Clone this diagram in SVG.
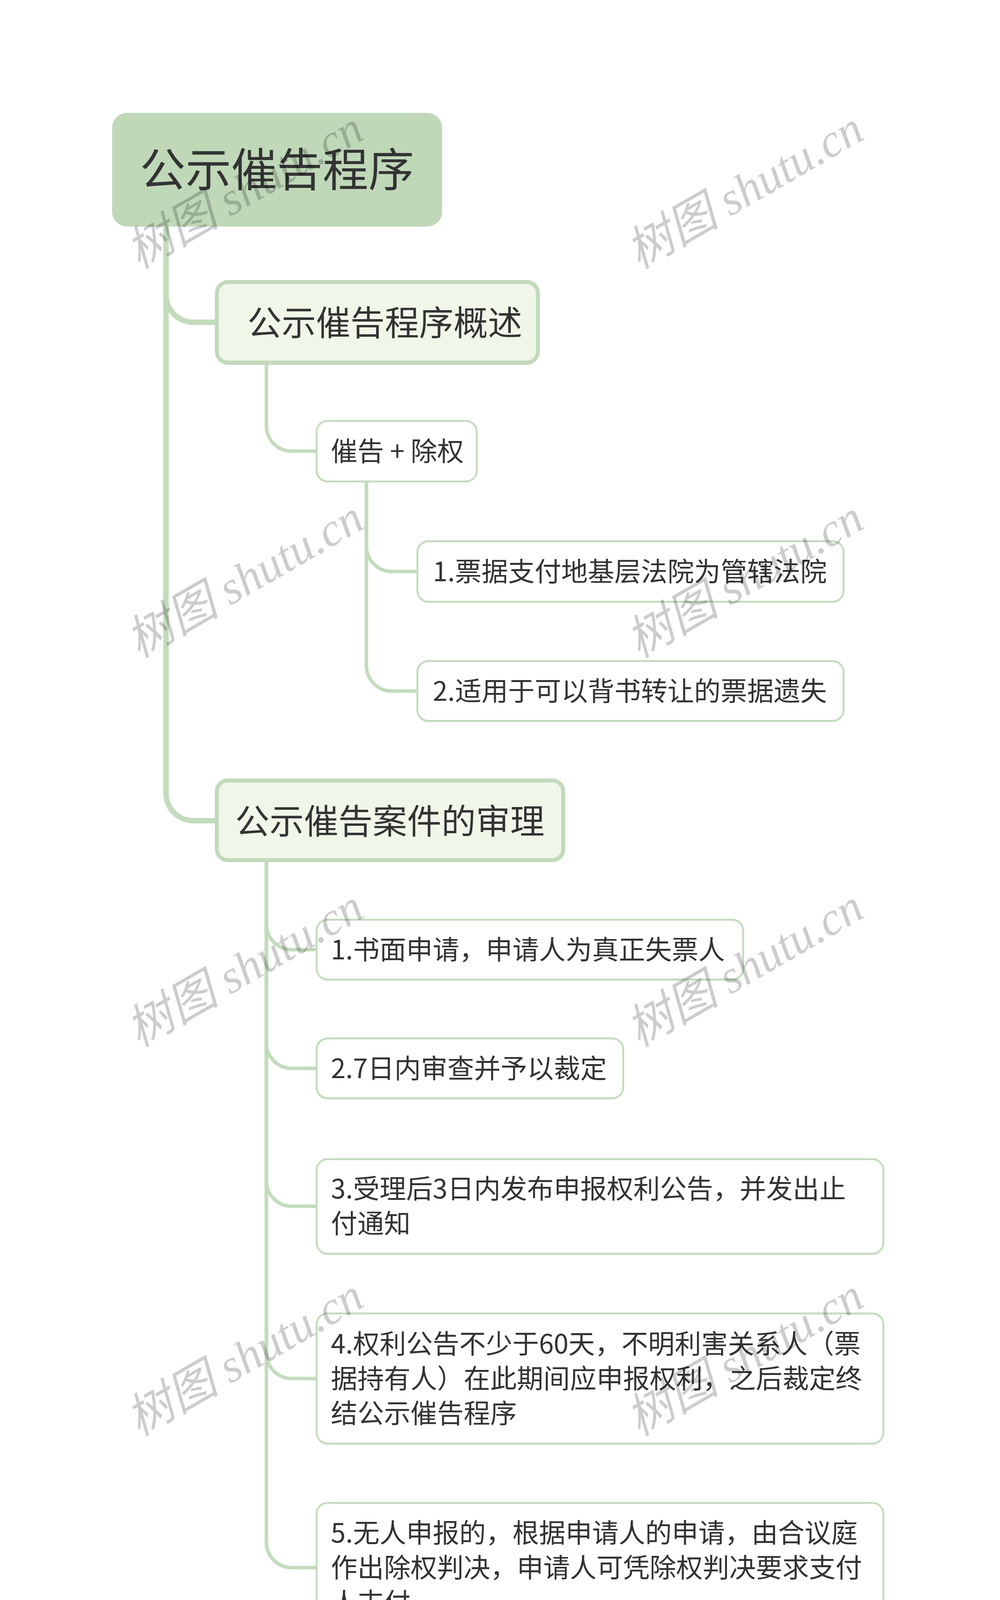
<svg xmlns="http://www.w3.org/2000/svg" width="2560" height="4477" viewBox="0 0 2560 4477">
<style>
.t{font-family:"Noto Sans CJK SC","Noto Sans",sans-serif;fill:#333333}
.leaf{fill:#ffffff;stroke:#c5dcbf;stroke-width:5}
.l1{fill:#f0f6e8;stroke:#c2d9bb;stroke-width:10}
.sh{fill:#000000;fill-opacity:0.05}
.c{fill:none;stroke:#c3dbbd;stroke-width:9}
.wm{font-family:"Liberation Serif","Noto Sans CJK SC",serif;font-style:italic;font-size:120px;fill:#000000;fill-opacity:0.2}
</style>
<rect width="2560" height="4477" fill="#ffffff"/>
<g id="connectors">
<path class="c" style="stroke-width:14" d="M425,580 V755 A70,70 0 0 0 495,825 H552"/>
<path class="c" style="stroke-width:14" d="M425,580 V2031 A70,70 0 0 0 495,2101 H552"/>
<path class="c" d="M682,933 V1090 A65,65 0 0 0 747,1155 H810"/>
<path class="c" d="M938,1235 V1398 A65,65 0 0 0 1003,1463 H1068"/>
<path class="c" d="M938,1235 V1704 A65,65 0 0 0 1003,1769 H1068"/>
<path class="c" d="M682,2207 V2366 A65,65 0 0 0 747,2431 H810"/>
<path class="c" d="M682,2207 V2670 A65,65 0 0 0 747,2735 H810"/>
<path class="c" d="M682,2207 V3023 A65,65 0 0 0 747,3088 H810"/>
<path class="c" d="M682,2207 V3464 A65,65 0 0 0 747,3529 H810"/>
<path class="c" d="M682,2207 V3948 A65,65 0 0 0 747,4013 H810"/>
</g>
<g id="root">
<rect x="287" y="289" width="845" height="291" rx="38" fill="#bfd8b8"/>
<text class="t" x="709" y="477" font-size="117" text-anchor="middle">公示催告程序</text>
</g>
<g id="n1">
<rect x="555" y="728" width="822" height="206" rx="28" fill="#c2d9bb"/>
<rect class="l1" x="555" y="722" width="822" height="206" rx="28"/>
<text class="t" x="633" y="858" font-size="88">公示催告程序概述</text>
</g>
<g id="n1a">
<rect class="sh" x="810" y="1080" width="411" height="155" rx="28"/>
<rect class="leaf" x="810.5" y="1077.5" width="410" height="155" rx="28"/>
<text class="t" x="847" y="1180" font-size="68">催告 + 除权</text>
</g>
<g id="n1a1">
<rect class="sh" x="1068" y="1388" width="1092" height="155" rx="28"/>
<rect class="leaf" x="1068.5" y="1385.5" width="1091" height="155" rx="28"/>
<text class="t" x="1108" y="1488" font-size="68">1.票据支付地基层法院为管辖法院</text>
</g>
<g id="n1a2">
<rect class="sh" x="1068" y="1694" width="1092" height="155" rx="28"/>
<rect class="leaf" x="1068.5" y="1692.5" width="1091" height="153" rx="28"/>
<text class="t" x="1108" y="1794" font-size="68">2.适用于可以背书转让的票据遗失</text>
</g>
<g id="n2">
<rect x="555" y="2004" width="887" height="198" rx="28" fill="#c2d9bb"/>
<rect class="l1" x="555" y="1998" width="887" height="204" rx="28"/>
<text class="t" x="998" y="2134" font-size="88" text-anchor="middle">公示催告案件的审理</text>
</g>
<g id="n2a">
<rect class="sh" x="810" y="2357" width="1093" height="155" rx="28"/>
<rect class="leaf" x="810.5" y="2354.5" width="1092" height="153" rx="28"/>
<text class="t" x="847" y="2456" font-size="68">1.书面申请，申请人为真正失票人</text>
</g>
<g id="n2b">
<rect class="sh" x="810" y="2661" width="786" height="155" rx="28"/>
<rect class="leaf" x="810.5" y="2658.5" width="785" height="153" rx="28"/>
<text class="t" x="847" y="2760" font-size="68">2.7日内审查并予以裁定</text>
</g>
<g id="n2c">
<rect class="sh" x="810" y="2970" width="1452" height="244" rx="28"/>
<rect class="leaf" x="810.5" y="2967.5" width="1451" height="242" rx="28"/>
<text class="t" font-size="68"><tspan x="847" y="3068">3.受理后3日内发布申报权利公告，并发出止</tspan><tspan x="847" y="3157">付通知</tspan></text>
</g>
<g id="n2d">
<rect class="sh" x="810" y="3365" width="1452" height="335" rx="28"/>
<rect class="leaf" x="810.5" y="3362.5" width="1451" height="333" rx="28"/>
<text class="t" font-size="68"><tspan x="847" y="3465">4.权利公告不少于60天，不明利害关系人（票</tspan><tspan x="847" y="3554">据持有人）在此期间应申报权利，之后裁定终</tspan><tspan x="847" y="3643">结公示催告程序</tspan></text>
</g>
<g id="n2e">
<rect class="sh" x="810" y="3850" width="1452" height="334" rx="28"/>
<rect class="leaf" x="810.5" y="3847.5" width="1451" height="331" rx="28"/>
<text class="t" font-size="68"><tspan x="847" y="3949">5.无人申报的，根据申请人的申请，由合议庭</tspan><tspan x="847" y="4038">作出除权判决，申请人可凭除权判决要求支付</tspan><tspan x="847" y="4127">人支付</tspan></text>
</g>
<g id="watermarks">
<text class="wm" transform="translate(355,690) rotate(-30)">树图 shutu.cn</text>
<text class="wm" transform="translate(1635,690) rotate(-30)">树图 shutu.cn</text>
<text class="wm" transform="translate(355,1686) rotate(-30)">树图 shutu.cn</text>
<text class="wm" transform="translate(1635,1686) rotate(-30)">树图 shutu.cn</text>
<text class="wm" transform="translate(355,2682) rotate(-30)">树图 shutu.cn</text>
<text class="wm" transform="translate(1635,2682) rotate(-30)">树图 shutu.cn</text>
<text class="wm" transform="translate(355,3678) rotate(-30)">树图 shutu.cn</text>
<text class="wm" transform="translate(1635,3678) rotate(-30)">树图 shutu.cn</text>
<text class="wm" transform="translate(355,4674) rotate(-30)">树图 shutu.cn</text>
<text class="wm" transform="translate(1635,4674) rotate(-30)">树图 shutu.cn</text>
</g>
</svg>
